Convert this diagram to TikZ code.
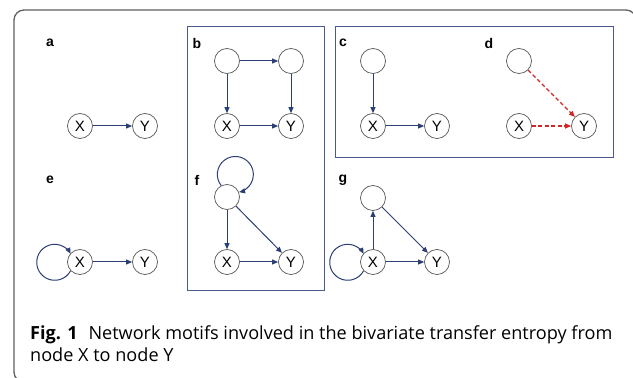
\documentclass[tikz,border=0pt]{standalone}
\usepackage{fontspec}
\setmainfont{Open Sans}
\newfontfamily\arialf{Liberation Sans}
\usetikzlibrary{arrows.meta}
\definecolor{navy}{HTML}{2B3F75}
\definecolor{boxc}{HTML}{4A5A8A}
\definecolor{redd}{HTML}{D42424}
\definecolor{framec}{HTML}{606060}
\tikzset{
  nd/.style={circle, draw=black!65, line width=0.7pt, fill=white, minimum size=25pt, inner sep=0pt, font=\arialf\fontsize{15}{15}\selectfont},
  arr/.style={draw=navy, line width=1pt, -{Triangle[length=6pt,width=5pt]}},
  darr/.style={draw=redd, line width=1.1pt, dash pattern=on 4pt off 2.5pt, -{Triangle[length=6pt,width=5pt]}},
  lab/.style={font=\arialf\bfseries\fontsize{14}{14}\selectfont, inner sep=0pt},
  panel/.style={draw=boxc, line width=0.9pt},
}
\begin{document}
\begin{tikzpicture}[x=1pt,y=1pt]
\useasboundingbox (0,0) rectangle (633,378);
\begin{scope}
\clip (0,0) rectangle (633,378);
\draw[framec, line width=1.3pt, rounded corners=10pt] (14,-4) rectangle (636,368);
\end{scope}
% panels
\draw[panel] (187,88) rectangle (324,352);
\draw[panel] (335,221) rectangle (613,352);
% labels
\node[lab] (la) at (50,335) {a};
\node[lab] (lb) at (197,335) {b};
\node[lab] (lc) at (343,335) {c};
\node[lab] (ld) at (489,335) {d};
\node[lab] (le) at (50,198) {e};
\node[lab] (lf) at (197,198) {f};
\node[lab] (lg) at (343,198) {g};
% a
\node[nd] (aX) at (80,252) {X};
\node[nd] (aY) at (145,252) {Y};
\draw[arr] (aX) -- (aY);
% b
\node[nd] (bT1) at (227,317) {};
\node[nd] (bT2) at (291,317) {};
\node[nd] (bX) at (227,252) {X};
\node[nd] (bY) at (291,252) {Y};
\draw[arr] (bT1) -- (bT2);
\draw[arr] (bT1) -- (bX);
\draw[arr] (bT2) -- (bY);
\draw[arr] (bX) -- (bY);
% c
\node[nd] (cT) at (373,317) {};
\node[nd] (cX) at (373,252) {X};
\node[nd] (cY) at (437,252) {Y};
\draw[arr] (cT) -- (cX);
\draw[arr] (cX) -- (cY);
% d
\node[nd] (dT) at (519,317) {};
\node[nd] (dX) at (519,252) {X};
\node[nd] (dY) at (584,252) {Y};
\draw[darr] (dT) -- (dY);
\draw[darr] (dX) -- (dY);
% e
\node[nd] (eX) at (80,116) {X};
\node[nd] (eY) at (145,116) {Y};
\draw[arr] (eX.223) arc[start angle=-28, end angle=-332, radius=18];
\draw[arr] (eX) -- (eY);
% f
\node[nd] (fT) at (227,181) {};
\node[nd] (fX) at (227,116) {X};
\node[nd] (fY) at (291,116) {Y};
\draw[arr] (fT.117) arc[start angle=218, end angle=-78, radius=18];
\draw[arr] (fT) -- (fX);
\draw[arr] (fT) -- (fY);
\draw[arr] (fX) -- (fY);
% g
\node[nd] (gT) at (373,180) {};
\node[nd] (gX) at (373,116) {X};
\node[nd] (gY) at (437,116) {Y};
\draw[arr] (gX.223) arc[start angle=-28, end angle=-332, radius=18];
\draw[arr] (gX) -- (gT);
\draw[arr] (gT) -- (gY);
\draw[arr] (gX) -- (gY);
% caption
\node[anchor=base west, inner sep=0pt, font=\fontsize{18.1}{23}\selectfont] (cap1) at (30,38) {\textbf{Fig. 1}\hspace{0.6em}Network motifs involved in the bivariate transfer entropy from};
\node[anchor=base west, inner sep=0pt, font=\fontsize{18.1}{23}\selectfont] (cap2) at (30,16) {node X to node Y};
\end{tikzpicture}
\end{document}
